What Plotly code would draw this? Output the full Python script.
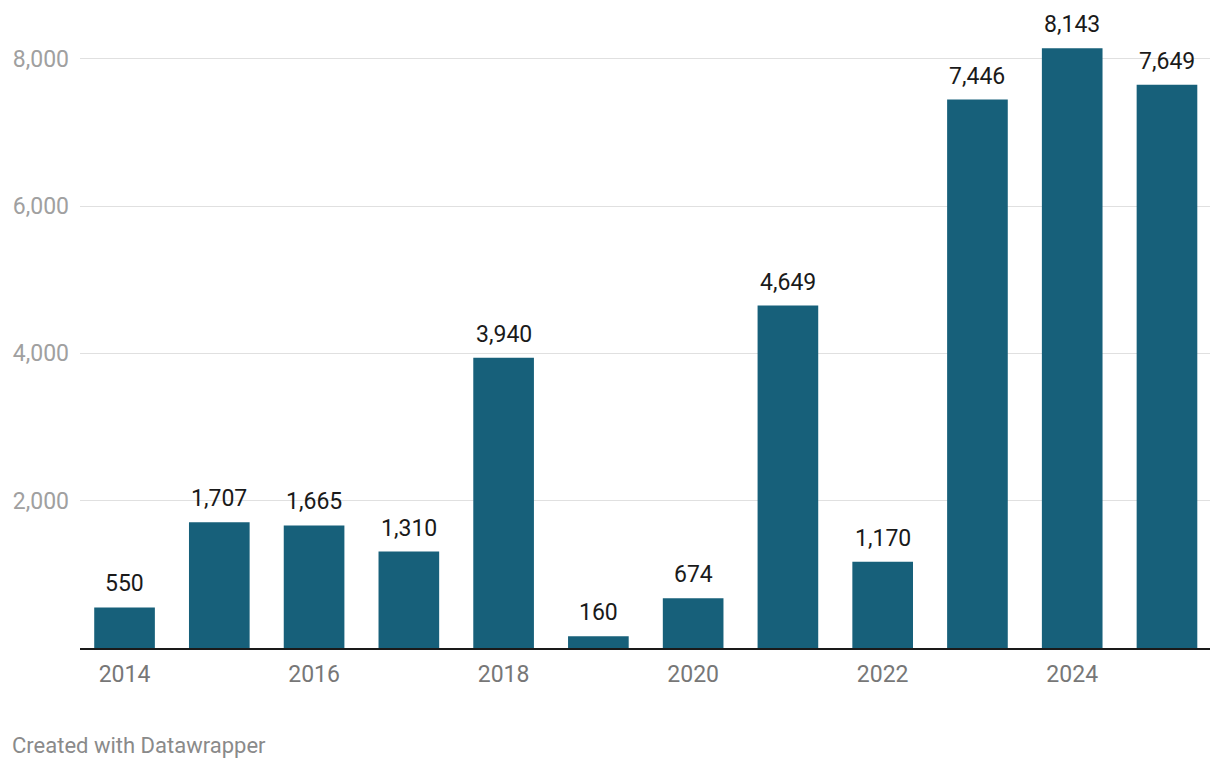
import plotly.graph_objects as go

years = [2014, 2015, 2016, 2017, 2018, 2019, 2020, 2021, 2022, 2023, 2024, 2025]
values = [550, 1707, 1665, 1310, 3940, 160, 674, 4649, 1170, 7446, 8143, 7649]
x_ticks = [2014, 2016, 2018, 2020, 2022, 2024]
y_ticks = [2000, 4000, 6000, 8000]
y_tick_labels = ["2,000", "4,000", "6,000", "8,000"]

BAR = "#17607a"
FONT = "Roboto"

fig = go.Figure()
fig.add_trace(go.Bar(x=years, y=values, marker=dict(color=BAR, line=dict(width=0)),
                     hoverinfo="skip"))

for xv, yv in zip(years, values):
    fig.add_annotation(x=xv, y=yv, text=f"{yv:,}", showarrow=False,
                       yanchor="bottom", yshift=8,
                       font=dict(family=FONT, size=23, color="#1a1a1a"))

fig.add_annotation(xref="paper", yref="paper", x=-0.062, y=-0.156,
                   xanchor="left", yanchor="middle", showarrow=False,
                   text="Created with Datawrapper",
                   font=dict(family=FONT, size=22, color="#8a8a8a"))

fig.update_layout(
    width=1220, height=770,
    margin=dict(l=80, r=10, t=20, b=122),
    paper_bgcolor="white", plot_bgcolor="white",
    bargap=0.36, showlegend=False,
    font=dict(family=FONT),
    xaxis=dict(range=[2013.53, 2025.454], tickmode="array", tickvals=x_ticks,
               ticktext=[str(t) for t in x_ticks], showgrid=False,
               showline=True, linecolor="#1a1a1a", linewidth=2,
               ticks="", ticklabelstandoff=4,
               tickfont=dict(family=FONT, size=23, color="#777777"),
               zeroline=False),
    yaxis=dict(range=[0, 8527], tickmode="array", tickvals=y_ticks,
               ticktext=y_tick_labels, showgrid=True, gridcolor="#e0e0e0",
               gridwidth=1, zeroline=False, ticks="", ticklabelstandoff=10,
               tickfont=dict(family=FONT, size=23, color="#a0a0a0")),
)

fig.write_html("out.html", config={"displayModeBar": False},
               post_script="document.body.style.margin='0px';")
